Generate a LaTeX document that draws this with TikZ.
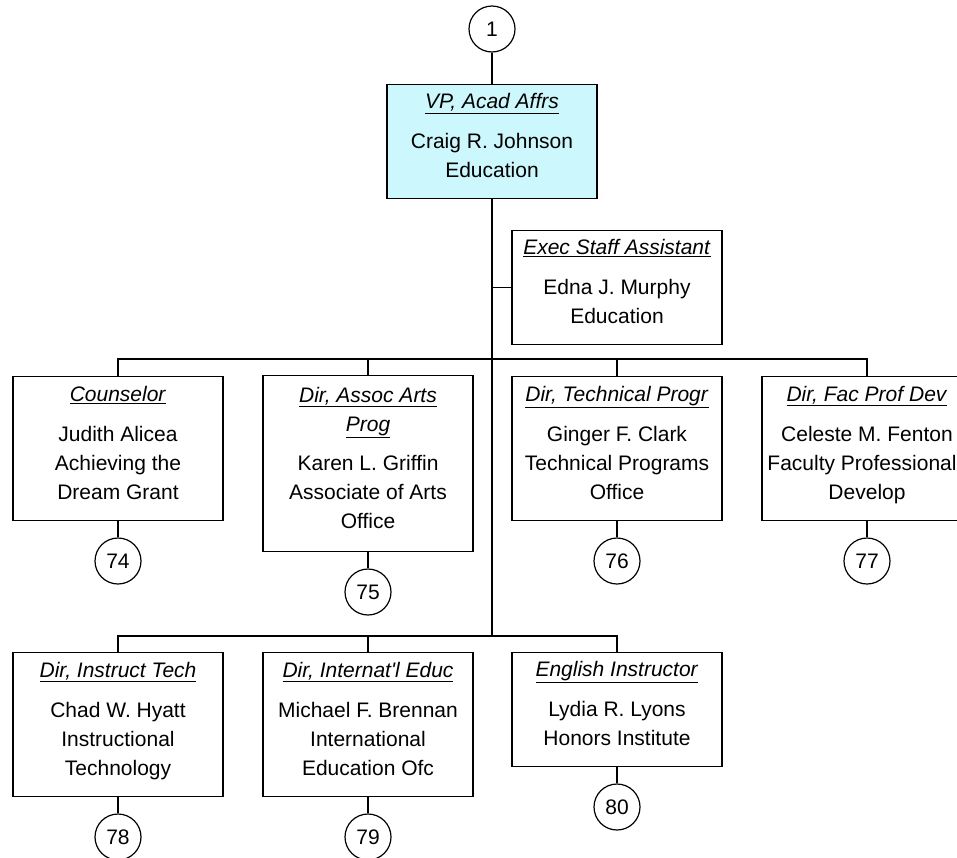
\documentclass[tikz,border=0pt]{standalone}
\usepackage{fontspec}
\setmainfont{Liberation Sans}
\usepackage{tikz}
\usetikzlibrary{positioning}
\definecolor{vpcyan}{RGB}{204,247,252}

\begin{document}
\begin{tikzpicture}[
    x=1pt, y=-1pt,
    node distance=16pt,
    every node/.style={font=\fontsize{21}{29}\selectfont},
    unit/.style={draw, line width=1.4pt, minimum width=210pt, minimum height=#1,
                 inner sep=0pt, anchor=north, align=center,
                 execute at end node={\rule[-12pt]{0pt}{12pt}}},
    unit/.default=144pt,
    page/.style={draw, circle, line width=1.2pt, minimum size=46pt, inner sep=0pt},
    link/.style={line width=1.4pt}
]
    \useasboundingbox (0,0) rectangle (957,857);
    \clip (0,0) rectangle (957,857);

    \node[page] (pg1) at (492,29) {1};
    \node[unit=114pt, fill=vpcyan] (vp) at (492,84)
        {\underline{\textit{VP, Acad Affrs}}\\[11pt]Craig R. Johnson\\Education};
    \node[unit=114pt] (esa) at (617,230)
        {\underline{\textit{Exec Staff Assistant}}\\[11pt]Edna J. Murphy\\Education};

    % second row
    \node[unit] (couns) at (118,376)
        {\underline{\textit{Counselor}}\\[11pt]Judith Alicea\\Achieving the\\Dream Grant};
    \node[unit=176pt] (aap) at (368,375)
        {\underline{\textit{Dir, Assoc Arts}}\\\underline{\textit{Prog}}\\[10pt]Karen L. Griffin\\Associate of Arts\\Office};
    \node[unit] (tech) at (617,376)
        {\underline{\textit{Dir, Technical Progr}}\\[11pt]Ginger F. Clark\\Technical Programs\\Office};
    \node[unit] (fpd) at (867,376)
        {\underline{\textit{Dir, Fac Prof Dev}}\\[11pt]Celeste M. Fenton\\Faculty Professional\kern10pt\\Develop};

    % third row
    \node[unit] (itech) at (118,652)
        {\underline{\textit{Dir, Instruct Tech}}\\[11pt]Chad W. Hyatt\\Instructional\\Technology};
    \node[unit] (intl) at (368,652)
        {\underline{\textit{Dir, Internat\textquotesingle l Educ}}\\[11pt]Michael F. Brennan\\International\\Education Ofc};
    \node[unit=114pt] (engl) at (617,652)
        {\underline{\textit{English Instructor}}\\[11pt]Lydia R. Lyons\\Honors Institute};

    % off-page references
    \node[page, below=of couns] (pg74) {74};
    \node[page, below=of aap] (pg75) {75};
    \node[page, below=of tech] (pg76) {76};
    \node[page, below=of fpd] (pg77) {77};
    \node[page, below=of itech] (pg78) {78};
    \node[page, below=of intl] (pg79) {79};
    \node[page, below=of engl] (pg80) {80};

    \coordinate (bus1) at (492,359);
    \coordinate (bus2) at (492,636);

    \draw[link] (pg1) -- (vp);
    \draw[link] (vp) -- (bus2);
    \draw[link] (esa.west) -- (esa.west -| vp.south);
    \draw[link] (couns.north) |- (bus1) -| (fpd.north);
    \draw[link] (aap.north) -- (aap.north |- bus1);
    \draw[link] (tech.north) -- (tech.north |- bus1);
    \draw[link] (itech.north) |- (bus2) -| (engl.north);
    \draw[link] (intl.north) -- (intl.north |- bus2);
    \foreach \b/\p in {couns/pg74, aap/pg75, tech/pg76, fpd/pg77,
                       itech/pg78, intl/pg79, engl/pg80}
        \draw[link] (\b) -- (\p);
\end{tikzpicture}
\end{document}
